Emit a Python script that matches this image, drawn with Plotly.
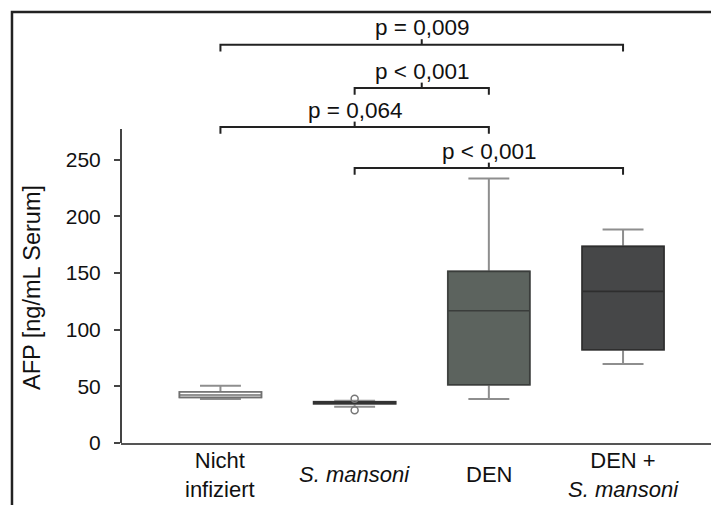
import plotly.graph_objects as go

# ---------------- data ----------------
categories = ["Nicht<br>infiziert", "<i>S. mansoni</i>", "DEN", "DEN +<br><i>S. mansoni</i>"]
lower_whisker = [38.8, 32.0, 38.8, 69.7]
q1 = [40.3, 34.6, 51.4, 82.3]
median = [42.3, 35.3, 116.7, 133.8]
q3 = [45.0, 36.3, 151.4, 173.5]
upper_whisker = [50.6, 37.2, 233.5, 188.5]
outlier_group = [1, 1]
outlier_values = [39.1, 28.8]

comparison_pairs = [(0, 3), (1, 2), (0, 2), (1, 3)]
p_labels = ["p = 0,009", "p < 0,001", "p = 0,064", "p < 0,001"]

y_ticks = [0, 50, 100, 150, 200, 250]
y_title = "AFP [ng/mL Serum]"

# ---------------- styling / positions ----------------
box_fill = ["#ffffff", "#4a4a4a", "#5c635e", "#464748"]
box_line = ["#707070", "#333333", "#3a3d3b", "#2e2e2e"]
whisker_color = "#8e8e8e"
bracket_levels = [351.5, 313.2, 278.8, 242.6]
font_family = "Liberation Sans, Arial, sans-serif"
fs_tick = 21
fs_cat = 22
fs_p = 22.5
fs_title = 23.5

fig = go.Figure()
for i in range(len(categories)):
    # whiskers (grey)
    fig.add_trace(go.Box(
        x=[i], q1=[q1[i]], median=[median[i]], q3=[q3[i]],
        lowerfence=[lower_whisker[i]], upperfence=[upper_whisker[i]],
        width=0.61, whiskerwidth=0.5, fillcolor="rgba(0,0,0,0)",
        line=dict(color=whisker_color, width=2), showlegend=False,
        hoverinfo="skip"))
    # box body
    fig.add_trace(go.Box(
        x=[i], q1=[q1[i]], median=[median[i]], q3=[q3[i]],
        lowerfence=[q1[i]], upperfence=[q3[i]],
        width=0.61, whiskerwidth=0.0, fillcolor=box_fill[i],
        line=dict(color=box_line[i], width=1.6), showlegend=False,
        hoverinfo="skip"))

fig.add_trace(go.Scatter(
    x=outlier_group, y=outlier_values, mode="markers",
    marker=dict(symbol="circle-open", size=7, color="#777777", line=dict(width=1.5)),
    showlegend=False, hoverinfo="skip"))

shapes = []
# outer frame (open on right and bottom)
shapes.append(dict(type="path", xref="paper", yref="paper",
                   path="M -0.1823,-0.3 L -0.1823,0.9977 L 1.05,0.9977",
                   line=dict(color="#222222", width=2.5)))
# y axis line (only up to ~277)
shapes.append(dict(type="line", xref="paper", yref="y", x0=0, x1=0, y0=0, y1=277,
                   line=dict(color="#444444", width=2)))

annotations = []
for (a, b), lab, lev in zip(comparison_pairs, p_labels, bracket_levels):
    mid = (a + b) / 2
    shapes.append(dict(type="path", xref="x", yref="y",
                       path=f"M {a},{lev-6} L {a},{lev} L {b},{lev} L {b},{lev-6}",
                       line=dict(color="#222222", width=2)))
    shapes.append(dict(type="line", xref="x", yref="y", x0=mid, x1=mid,
                       y0=lev, y1=lev + 4.8, line=dict(color="#222222", width=2)))
    annotations.append(dict(x=mid, y=lev + 15, xref="x", yref="y", text=lab,
                            showarrow=False, yanchor="middle",
                            font=dict(family=font_family, size=fs_p, color="#111111")))

for i, c in enumerate(categories):
    annotations.append(dict(x=i, y=-0.073, xref="x", yref="paper", text=c,
                            showarrow=False, yanchor="middle",
                            font=dict(family=font_family, size=fs_cat, color="#111111")))

annotations.append(dict(x=-0.15, y=137, xref="paper", yref="y", text=y_title,
                        textangle=-90, showarrow=False, xanchor="center", yanchor="middle",
                        font=dict(family=font_family, size=fs_title, color="#111111")))

fig.update_layout(
    width=711, height=497,
    margin=dict(l=113, r=0, t=3, b=62, pad=0),
    plot_bgcolor="white", paper_bgcolor="white",
    boxmode="overlay",
    shapes=shapes, annotations=annotations,
    font=dict(family=font_family, size=fs_tick, color="#111111"),
    xaxis=dict(range=[-0.741, 3.715], showgrid=False, zeroline=False,
               showticklabels=False, ticks="", showline=True,
               linecolor="#555555", linewidth=2, tickvals=[0, 1, 2, 3]),
    yaxis=dict(range=[0, 381.2], showgrid=False, zeroline=False, showline=False,
               tickvals=y_ticks, ticks="outside", ticklen=6, tickwidth=1.5,
               tickcolor="#444444", ticklabelstandoff=9,
               tickfont=dict(family=font_family, size=fs_tick, color="#111111")),
)

fig.write_html("out.html")
